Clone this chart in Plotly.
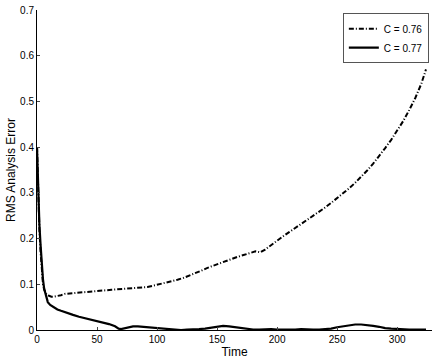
import plotly.graph_objects as go

# C = 0.76 (dash-dot)
t_076 = [0, 1, 2, 3, 4, 5, 6, 7, 8, 10, 12, 14, 17, 20, 23, 27, 32, 37, 42, 47, 52,
         57, 62, 67, 72, 77, 82, 87, 92, 97, 102, 107, 112, 117, 122, 127, 132,
         137, 142, 147, 152, 157, 162, 167, 172, 177, 182, 184, 186, 190, 195,
         200, 205, 210, 215, 220, 225, 230, 235, 240, 245, 250, 255, 260, 265,
         270, 275, 280, 285, 290, 295, 300, 305, 310, 315, 320, 324]
v_076 = [0.400, 0.300, 0.220, 0.170, 0.128, 0.100, 0.088, 0.081, 0.077, 0.075, 0.073,
         0.073, 0.074, 0.076, 0.079, 0.080, 0.082, 0.083, 0.084, 0.085, 0.086,
         0.087, 0.088, 0.089, 0.090, 0.091, 0.091, 0.092, 0.094, 0.097, 0.100,
         0.103, 0.106, 0.110, 0.114, 0.119, 0.124, 0.130, 0.136, 0.141, 0.146,
         0.150, 0.155, 0.160, 0.164, 0.168, 0.172, 0.171, 0.170, 0.176, 0.186,
         0.197, 0.205, 0.214, 0.223, 0.232, 0.240, 0.250, 0.259, 0.268, 0.278,
         0.288, 0.299, 0.310, 0.322, 0.335, 0.349, 0.364, 0.380, 0.398, 0.416,
         0.436, 0.457, 0.481, 0.507, 0.538, 0.570]

# C = 0.77 (solid)
t_077 = [0, 1, 2, 3, 4, 5, 6, 7, 8, 9, 11, 14, 17, 20, 25, 30, 35, 40, 45, 50, 55,
         60, 65, 68, 70, 73, 77, 80, 84, 88, 92, 96, 100, 105, 110, 115, 120, 125,
         130, 135, 140, 145, 150, 155, 160, 165, 170, 175, 180, 185, 190, 195, 200,
         205, 210, 215, 220, 225, 230, 235, 240, 245, 250, 255, 260, 265, 270, 275,
         280, 285, 290, 295, 300, 305, 310, 315, 320, 324]
v_077 = [0.400, 0.300, 0.230, 0.185, 0.140, 0.110, 0.090, 0.078, 0.068, 0.061, 0.055,
         0.049, 0.045, 0.042, 0.037, 0.033, 0.029, 0.026, 0.023, 0.020, 0.016,
         0.013, 0.008, 0.003, 0.002, 0.004, 0.006, 0.008, 0.008, 0.007, 0.005,
         0.005, 0.004, 0.003, 0.002, 0.001, 0.000, 0.001, 0.001, 0.002, 0.003,
         0.005, 0.007, 0.009, 0.008, 0.006, 0.004, 0.003, 0.001, 0.001, 0.002,
         0.002, 0.001, 0.001, 0.000, 0.001, 0.002, 0.001, 0.001, 0.001, 0.002,
         0.003, 0.006, 0.008, 0.010, 0.012, 0.012, 0.011, 0.009, 0.007, 0.004,
         0.003, 0.002, 0.001, 0.001, 0.001, 0.001, 0.001]

x_ticks = [0, 50, 100, 150, 200, 250, 300]
y_ticks = [0, 0.1, 0.2, 0.3, 0.4, 0.5, 0.6, 0.7]
y_labels = ['0', '0.1', '0.2', '0.3', '0.4', '0.5', '0.6', '0.7']

fig = go.Figure()
fig.add_trace(go.Scatter(x=t_076, y=v_076, mode='lines', name='C = 0.76',
                         line=dict(color='black', width=2, dash='5px,2px,1px,2px')))
fig.add_trace(go.Scatter(x=t_077, y=v_077, mode='lines', name='C = 0.77',
                         line=dict(color='black', width=2.2)))

fig.update_layout(
    width=436, height=360,
    margin=dict(l=37, r=4, t=10, b=30, autoexpand=False),
    paper_bgcolor='white', plot_bgcolor='white',
    font=dict(family='Liberation Sans, Arial, sans-serif', size=10, color='black'),
    legend=dict(x=0.992, y=0.99, xanchor='right', yanchor='top',
                bordercolor='#555555', borderwidth=1, bgcolor='white',
                font=dict(size=10), tracegroupgap=0),
    xaxis=dict(range=[0, 329], tickvals=x_ticks, ticks='inside', ticklen=3,
               showline=True, linecolor='black', linewidth=1, showgrid=False,
               zeroline=False, title=dict(text='Time', standoff=2)),
    yaxis=dict(range=[0, 0.7], tickvals=y_ticks, ticktext=y_labels, ticks='inside',
               ticklen=3, showline=True, linecolor='black', linewidth=1,
               showgrid=False, zeroline=False,
               title=dict(text='RMS Analysis Error', standoff=1)),
)

# drop the default page margin so the figure sits at the window's corner
fig.write_html("out.html", config={'displayModeBar': False},
               post_script="document.body.style.margin='0';")
